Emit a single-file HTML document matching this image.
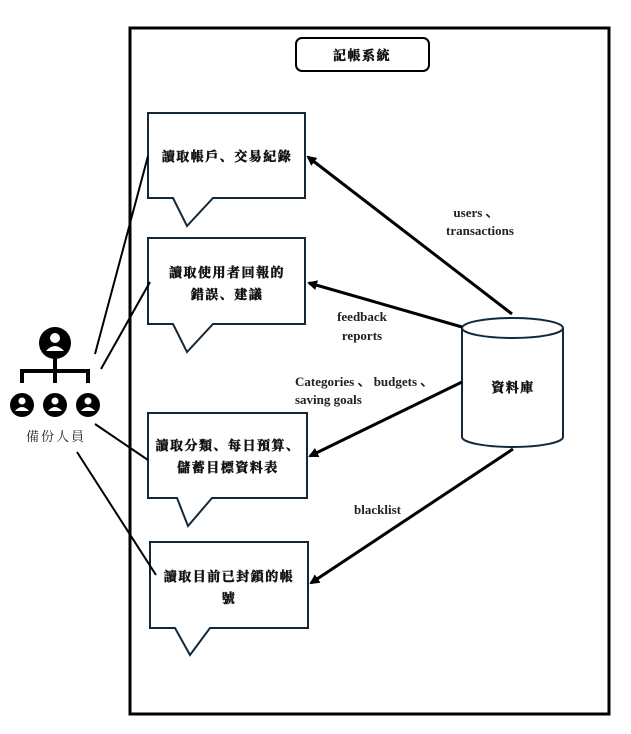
<!DOCTYPE html>
<html><head><meta charset="utf-8"><style>
html,body{margin:0;padding:0;background:#fff;}
svg{display:block;}
.cj{font-family:"Liberation Serif","Noto Serif CJK SC",serif;font-size:13px;font-weight:bold;fill:#111;stroke:#111;stroke-width:0.5px;letter-spacing:1.5px;}
.en{font-family:"Liberation Serif",serif;font-size:13px;font-weight:bold;fill:#222;}
</style></head><body>
<svg width="631" height="734" viewBox="0 0 631 734" xmlns="http://www.w3.org/2000/svg">
<defs><marker id="a" markerWidth="10" markerHeight="10" refX="8" refY="5" orient="auto" markerUnits="userSpaceOnUse"><path d="M0,0 L10,5 L0,10 Z" fill="#000"/></marker></defs>
<rect x="130" y="28" width="479" height="686" fill="none" stroke="#000" stroke-width="3"/>
<rect x="296" y="38" width="133" height="33" rx="6" fill="#fff" stroke="#000" stroke-width="2"/>
<text x="362" y="60" text-anchor="middle" class="cj">記帳系統</text>

<g fill="#fff" stroke="#13293a" stroke-width="2">
<path d="M148,113 H305 V198 H213 L187,226 L173,198 H148 Z"/>
<path d="M148,238 H305 V324 H213 L187,352 L173,324 H148 Z"/>
<path d="M148,413 H307 V498 H212 L188,526 L177,498 H148 Z"/>
<path d="M150,542 H308 V628 H210 L190,655 L175,628 H150 Z"/>
</g>
<text x="227" y="161" text-anchor="middle" class="cj">讀取帳戶、交易紀錄</text>
<text x="227" y="277" text-anchor="middle" class="cj">讀取使用者回報的</text>
<text x="227" y="299" text-anchor="middle" class="cj">錯誤、建議</text>
<text x="228" y="450" text-anchor="middle" class="cj">讀取分類、每日預算、</text>
<text x="228" y="472" text-anchor="middle" class="cj">儲蓄目標資料表</text>
<text x="229" y="581" text-anchor="middle" class="cj">讀取目前已封鎖的帳</text>
<text x="229" y="603" text-anchor="middle" class="cj">號</text>

<path d="M462,328 V437 A50.5,10 0 0 0 563,437 V328" fill="#fff" stroke="#13293a" stroke-width="2"/>
<ellipse cx="512.5" cy="328" rx="50.5" ry="10" fill="#fff" stroke="#13293a" stroke-width="2"/>
<text x="513" y="392" text-anchor="middle" class="cj">資料庫</text>

<g stroke="#000" stroke-width="3" fill="none">
<line x1="512" y1="314" x2="308" y2="157" marker-end="url(#a)"/>
<line x1="462" y1="327" x2="309" y2="283" marker-end="url(#a)"/>
<line x1="462" y1="382" x2="310" y2="456" marker-end="url(#a)"/>
<line x1="513" y1="449" x2="311" y2="583" marker-end="url(#a)"/>
</g>
<g stroke="#000" stroke-width="2">
<line x1="95" y1="354" x2="148" y2="156"/>
<line x1="101" y1="369" x2="150" y2="282"/>
<line x1="95" y1="424" x2="148" y2="460"/>
<line x1="77" y1="452" x2="156" y2="575"/>
</g>
<text x="476" y="217" text-anchor="middle" class="en">users 、</text>
<text x="480" y="235" text-anchor="middle" class="en">transactions</text>
<text x="362" y="321" text-anchor="middle" class="en">feedback</text>
<text x="362" y="340" text-anchor="middle" class="en">reports</text>
<text x="295" y="386" class="en">Categories 、 budgets 、</text>
<text x="295" y="404" class="en">saving goals</text>
<text x="354" y="514" class="en">blacklist</text>

<g fill="#000">
<circle cx="55" cy="343" r="16"/>
<rect x="53" y="358" width="4" height="13"/>
<rect x="20" y="369" width="70" height="4"/>
<rect x="20" y="369" width="4" height="14"/>
<rect x="53" y="369" width="4" height="14"/>
<rect x="86" y="369" width="4" height="14"/>
<circle cx="22" cy="405" r="12"/>
<circle cx="55" cy="405" r="12"/>
<circle cx="88" cy="405" r="12"/>
</g>
<g fill="#fff">
<circle cx="55" cy="338" r="5"/><path d="M46,351 Q55,341 64,351 Z"/>
<circle cx="22" cy="401" r="3.5"/><path d="M15,411 Q22,403 29,411 Z"/>
<circle cx="55" cy="401" r="3.5"/><path d="M48,411 Q55,403 62,411 Z"/>
<circle cx="88" cy="401" r="3.5"/><path d="M81,411 Q88,403 95,411 Z"/>
</g>
<text x="56" y="441" text-anchor="middle" style="font-family:'Liberation Serif','Noto Serif CJK SC',serif;font-size:13px;fill:#222;letter-spacing:2px;">備份人員</text>
</svg>
</body></html>
